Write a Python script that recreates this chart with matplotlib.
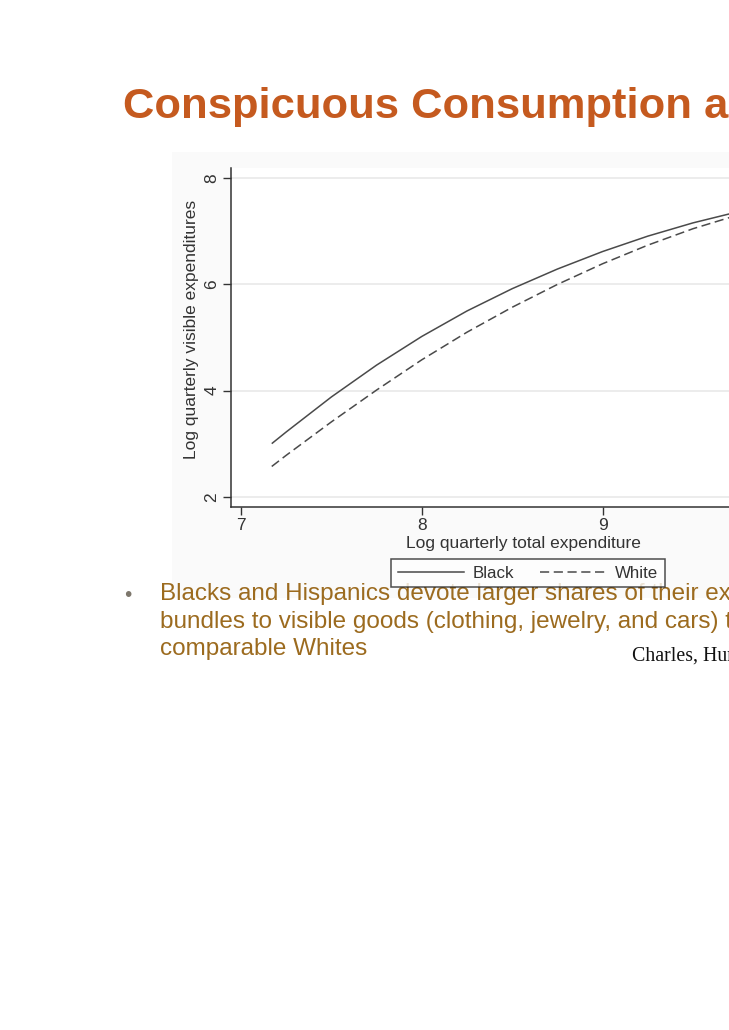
import matplotlib
matplotlib.use("Agg")
import matplotlib.pyplot as plt
from matplotlib.patches import Rectangle
from matplotlib.lines import Line2D

# ---- data ----
log_total = [7.17, 7.25, 7.5, 7.75, 8.0, 8.25, 8.5, 8.75, 9.0, 9.25, 9.5, 9.75, 10.0]
black_vals = [3.00, 3.22, 3.88, 4.48, 5.02, 5.50, 5.92, 6.29, 6.62, 6.91, 7.16, 7.37, 7.56]
white_vals = [2.57, 2.78, 3.41, 4.01, 4.58, 5.10, 5.57, 6.00, 6.39, 6.74, 7.05, 7.31, 7.53]
x_ticks = [7, 8, 9, 10]
y_ticks = [2, 4, 6, 8]
series_labels = ["Black", "White"]

title_text = "Conspicuous Consumption and Race"
bullet_lines = ["Blacks and Hispanics devote larger shares of their expenditure",
                "bundles to visible goods (clothing, jewelry, and cars) than do",
                "comparable Whites"]
citation = "Charles, Hurst, and Roussanov (2009)"

W, H = 729, 1030
fig = plt.figure(figsize=(W / 100, H / 100), dpi=100)
fig.patch.set_facecolor("white")

def fx(px):
    return px / W

def fy(py):
    return 1 - py / H

# embedded chart background
bg = Rectangle((fx(172), fy(598)), fx(W - 172), (598 - 152) / H,
               transform=fig.transFigure, facecolor="#fafafa",
               edgecolor="none", zorder=-5)
fig.add_artist(bg)

# axes geometry
left_px, right_px, top_px, bottom_px = 230.7, 816, 168, 506.7
ax = fig.add_axes([fx(left_px), fy(bottom_px), (right_px - left_px) / W,
                   (bottom_px - top_px) / H])
ax.set_zorder(1)
ax.set_facecolor("white")
xmin = 7 - (241 - left_px) / 180.8
xmax = xmin + (right_px - left_px) / 180.8
ax.set_xlim(xmin, xmax)
ax.set_ylim(2 - (bottom_px - 496.7) / 53.1, 8 + (178.3 - top_px) / 53.1)

line_col = "#4a4a4a"
ax.plot(log_total, black_vals, color=line_col, lw=1.1, solid_capstyle="butt")
ax.plot(log_total, white_vals, color=line_col, lw=1.1, dashes=(6, 3))

for s in ["top", "right"]:
    ax.spines[s].set_visible(False)
for s in ["left", "bottom"]:
    ax.spines[s].set_color("#333333")
    ax.spines[s].set_linewidth(1.1)

ax.set_xticks(x_ticks)
ax.set_yticks(y_ticks)
ax.tick_params(axis="both", direction="out", length=6, width=1.0, color="#333333",
               labelsize=12.5, labelcolor="#333333", pad=2)
for lab in ax.get_yticklabels():
    lab.set_rotation(90)
    lab.set_va("center")
ax.grid(axis="y", color="#ececec", lw=1.4)
ax.set_axisbelow(True)

ax.set_xlabel("Log quarterly total expenditure", fontsize=12.5, color="#333333",
              labelpad=2, family="Liberation Sans")
ax.set_ylabel("Log quarterly visible expenditures", fontsize=12.5, color="#333333",
              family="Liberation Sans")
ax.yaxis.set_label_coords((199 - left_px) / (right_px - left_px),
                          (bottom_px - 329) / (bottom_px - top_px))
for lab in ax.get_xticklabels() + ax.get_yticklabels():
    lab.set_family("Liberation Sans")

handles = [Line2D([], [], color=line_col, lw=1.1),
           Line2D([], [], color=line_col, lw=1.1, dashes=(6, 3))]
leg = fig.legend(handles, series_labels, loc="center",
                 bbox_to_anchor=(fx(528), fy(573)), ncol=2, frameon=True,
                 fancybox=False, edgecolor="#222222",
                 handlelength=3.9, columnspacing=1.5, handletextpad=0.55,
                 borderpad=0.4, prop={"family": "Liberation Sans", "size": 12.2})
leg.get_frame().set_linewidth(1.1)
for t in leg.get_texts():
    t.set_color("#333333")

# slide text
fig.text(fx(123), fy(118), title_text, fontsize=31.3, fontweight="bold",
         color="#c55a1f", family="Liberation Sans", va="baseline", ha="left")

bullet_col = "#9c6b1f"
fig.text(fx(124), fy(601), "\u2022", fontsize=15, color="#7d776c",
         family="Liberation Sans", va="baseline", ha="left")
baselines = [600, 628, 655]
for line, b in zip(bullet_lines, baselines):
    fig.text(fx(160), fy(b), line, fontsize=17.5, color=bullet_col,
             family="Liberation Sans", va="baseline", ha="left")

fig.text(fx(632), fy(661), citation, fontsize=14.3, color="#111111",
         family="Liberation Serif", va="baseline", ha="left")

fig.savefig("out.png", dpi=100)
